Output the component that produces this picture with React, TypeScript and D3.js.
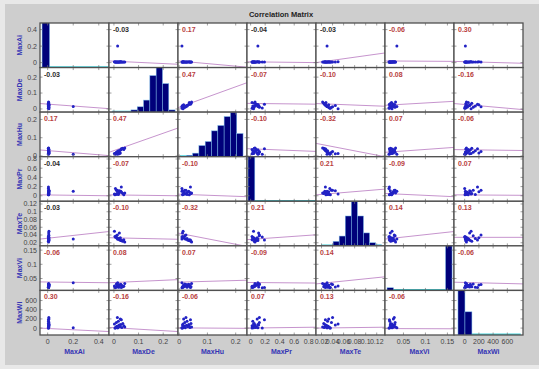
import React, { useEffect, useRef } from 'react';
import * as d3 from 'd3';

// Variables of the matrix
const varNames = ['MaxAi', 'MaxDe', 'MaxHu', 'MaxPr', 'MaxTe', 'MaxVi', 'MaxWi'];

// Axis limits (x for columns, y for rows) and tick values per variable
const xDomains = [[-0.06, 0.48], [-0.02, 0.26], [-0.004, 0.24], [-0.05, 0.9], [0.01, 0.135], [0.008, 0.165], [-150, 820]];
const yDomains = [[-0.06, 0.48], [-0.02, 0.26], [-0.004, 0.24], [-0.12, 0.85], [0.012, 0.127], [0.008, 0.165], [-150, 820]];
const tickValues = [
  [0, 0.2, 0.4],
  [0, 0.1, 0.2],
  [0, 0.1, 0.2],
  [0, 0.2, 0.4, 0.6, 0.8],
  [0.02, 0.04, 0.06, 0.08, 0.1, 0.12],
  [0.05, 0.1, 0.15],
  [0, 200, 400, 600],
];

const maxAi = [0.006, 0.007, 0.008, 0.006, 0.009, 0.007, 0.010, 0.008, 0.006, 0.009, 0.007, 0.010, 0.008, 0.006, 0.009, 0.007, 0.008, 0.2, 0.006, 0.010];
const maxDe = [0.004, 0.008, 0.012, 0.016, 0.020, 0.024, 0.028, 0.032, 0.036, 0.010, 0.018, 0.026, 0.040, 0.006, 0.014, 0.044, 0.022, 0.015, 0.030, 0.002];
const maxHu = [0.012, 0.015, 0.018, 0.022, 0.026, 0.030, 0.034, 0.038, 0.042, 0.020, 0.028, 0.016, 0.036, 0.010, 0.024, 0.044, 0.012, 0.010, 0.040, 0.014];
const maxPr = [0.02, 0.03, 0.05, 0.04, 0.06, 0.08, 0.10, 0.07, 0.05, 0.12, 0.03, 0.09, 0.02, 0.16, 0.12, 0.06, 0.11, 0.10, 0.19, 0.04];
const maxTe = [0.036, 0.034, 0.032, 0.030, 0.029, 0.027, 0.026, 0.025, 0.024, 0.038, 0.031, 0.033, 0.028, 0.035, 0.040, 0.022, 0.045, 0.030, 0.027, 0.050];
const maxVi = [0.018, 0.020, 0.022, 0.024, 0.026, 0.028, 0.030, 0.025, 0.021, 0.031, 0.019, 0.027, 0.023, 0.017, 0.029, 0.032, 0.020, 0.035, 0.018, 0.024];
const maxWi = [5, 20, 40, 10, 60, 30, 80, 15, 100, 120, 150, 200, 50, 0, 230, 25, 70, 10, 180, 90];
const observations = [maxAi, maxDe, maxHu, maxPr, maxTe, maxVi, maxWi];

// Correlation coefficients
const corr = [
  [1, -0.03, 0.17, -0.04, -0.03, -0.06, 0.30],
  [-0.03, 1, 0.47, -0.07, -0.10, 0.08, -0.16],
  [0.17, 0.47, 1, -0.10, -0.32, 0.07, -0.06],
  [-0.04, -0.07, -0.10, 1, 0.21, -0.09, 0.07],
  [-0.03, -0.10, -0.32, 0.21, 1, 0.14, 0.13],
  [-0.06, 0.08, 0.07, -0.09, 0.14, 1, -0.06],
  [0.30, -0.16, -0.06, 0.07, 0.13, -0.06, 1],
];
// pairs whose coefficient is drawn in black (not significant)
const notSignificant = [[0, 1], [0, 3], [0, 4]];

// Least-squares lines: row variable value at the left and right end of the x range
const fitLines = [
  [null, [0.02, -0.02], [0.02, -0.055], [0.01, 0.0], [0.0, 0.117], [0.02, 0.015], [0.015, -0.008]],
  [[0.034, 0.002], null, [0.008, 0.165], [0.035, 0.03], [0.034, 0.017], [0.023, 0.048], [0.034, -0.004]],
  [[0.033, 0.002], [0.02, 0.153], null, [0.04, 0.025], [0.069, -0.004], [0.02, 0.047], [0.035, 0.03]],
  [[0.02, 0.0], [0.02, 0.0], [0.035, -0.02], null, [0.02, 0.145], [0.05, -0.02], [0.02, 0.01]],
  [[0.0295, 0.049], [0.033, 0.029], [0.045, 0.0105], [0.028, 0.0405], null, [0.0295, 0.049], [0.034, 0.034]],
  [[0.038, 0.035], [0.035, 0.046], [0.037, 0.044], [0.036, 0.034], [0.031, 0.056], null, [0.037, 0.031]],
  [[0, -75], [15, -75], [5, -5], [0, 20], [0, 20], [-10, -15], null],
];

// Diagonal histograms: first bin edge, bin width, relative counts
const histStart = [-0.044, -0.0078, 0.003, -0.036, 0.019, 0.0126, -94];
const histWidth = [0.0587, 0.0256, 0.0223, 0.0935, 0.011, 0.0148, 98];
const histCounts = [
  [1.1, 0, 0, 0, 0, 0, 0, 0, 0],
  [0.01, 0.01, 0.01, 0.05, 0.12, 0.27, 0.82, 1.0, 0.64, 0.05],
  [0.01, 0.03, 0.08, 0.25, 0.34, 0.58, 0.7, 0.9, 1.0, 0.52],
  [1.1, 0, 0, 0, 0, 0, 0, 0, 0, 0],
  [0.01, 0.01, 0.1, 0.22, 0.67, 1.0, 0.67, 0.29, 0.07, 0.02],
  [0.06, 0, 0, 0, 0, 0, 0, 0, 0, 1.1],
  [1.1, 0.52, 0, 0, 0, 0, 0, 0, 0],
];

const WIDTH = 539;
const HEIGHT = 369;
const FONT = "'Liberation Sans', Arial, sans-serif";

const App: React.FC = () => {
  const svgRef = useRef<SVGSVGElement>(null);

  useEffect(() => {
    if (!svgRef.current) return;
    const svg = d3.select(svgRef.current);
    svg.selectAll('*').remove();

    const grid = { left: 40, right: 523, top: 23, bottom: 335 };
    const n = varNames.length;
    const cw = (grid.right - grid.left) / n;
    const ch = (grid.bottom - grid.top) / n;

    // background
    svg.append('rect').attr('width', WIDTH).attr('height', HEIGHT).attr('fill', '#e8e8e8');
    svg.append('rect').attr('x', 5).attr('y', 4).attr('width', WIDTH - 5).attr('height', 361).attr('fill', '#cecece');

    svg.append('text')
      .attr('x', 281).attr('y', 17)
      .attr('text-anchor', 'middle')
      .attr('font-family', FONT).attr('font-size', '7.5px').attr('font-weight', 'bold')
      .attr('fill', '#222')
      .text('Correlation Matrix');

    const defs = svg.append('defs');

    for (let i = 0; i < n; i++) {
      for (let j = 0; j < n; j++) {
        const x0 = grid.left + j * cw;
        const y0 = grid.top + i * ch;
        const x = d3.scaleLinear().domain(xDomains[j]).range([x0, x0 + cw]);
        const y = d3.scaleLinear().domain(yDomains[i]).range([y0 + ch, y0]);

        const clipId = `clip-${i}-${j}`;
        defs.append('clipPath').attr('id', clipId)
          .append('rect').attr('x', x0).attr('y', y0).attr('width', cw).attr('height', ch);

        svg.append('rect').attr('x', x0).attr('y', y0).attr('width', cw).attr('height', ch).attr('fill', '#fff');
        const g = svg.append('g').attr('clip-path', `url(#${clipId})`);

        if (i === j) {
          const counts = histCounts[i];
          const hy = d3.scaleLinear().domain([0, 1]).range([y0 + ch, y0]);
          const start = histStart[i];
          const w = histWidth[i];
          g.append('line')
            .attr('x1', x(start)).attr('x2', x(start + counts.length * w))
            .attr('y1', y0 + ch - 0.7).attr('y2', y0 + ch - 0.7)
            .attr('stroke', '#40d0d8').attr('stroke-width', 1.4);
          counts.forEach((c, b) => {
            if (c <= 0) return;
            g.append('rect')
              .attr('x', x(start + b * w))
              .attr('y', hy(c))
              .attr('width', x(start + (b + 1) * w) - x(start + b * w))
              .attr('height', hy(0) - hy(c))
              .attr('fill', '#00007a')
              .attr('stroke', '#78b8e8')
              .attr('stroke-width', 0.5);
          });
        } else {
          const line = fitLines[i][j] as number[];
          g.append('line')
            .attr('x1', x0).attr('x2', x0 + cw)
            .attr('y1', y(line[0])).attr('y2', y(line[1]))
            .attr('stroke', '#b878c0').attr('stroke-width', 0.8);

          const xs = observations[j];
          const ys = observations[i];
          xs.forEach((xv, k) => {
            g.append('circle')
              .attr('cx', x(xv)).attr('cy', y(ys[k]))
              .attr('r', 1.5)
              .attr('fill', '#2222c4');
          });

          const r = corr[i][j];
          const black = notSignificant.some(([a, b]) => (a === i && b === j) || (a === j && b === i));
          g.append('text')
            .attr('x', x0 + 4).attr('y', y0 + 9)
            .attr('font-family', FONT).attr('font-size', '7px').attr('font-weight', 'bold')
            .attr('fill', black ? '#2a2a2a' : '#b84040')
            .text(r.toFixed(2));
        }

        // inward ticks on all four sides
        tickValues[j].forEach((t) => {
          const tx = x(t);
          if (tx < x0 || tx > x0 + cw) return;
          svg.append('line').attr('x1', tx).attr('x2', tx).attr('y1', y0 + ch).attr('y2', y0 + ch - 2.5).attr('stroke', '#777').attr('stroke-width', 0.7);
          svg.append('line').attr('x1', tx).attr('x2', tx).attr('y1', y0).attr('y2', y0 + 2.5).attr('stroke', '#777').attr('stroke-width', 0.7);
        });
        tickValues[i].forEach((t) => {
          const ty = y(t);
          if (ty < y0 || ty > y0 + ch) return;
          svg.append('line').attr('x1', x0).attr('x2', x0 + 2.5).attr('y1', ty).attr('y2', ty).attr('stroke', '#777').attr('stroke-width', 0.7);
          svg.append('line').attr('x1', x0 + cw).attr('x2', x0 + cw - 2.5).attr('y1', ty).attr('y2', ty).attr('stroke', '#777').attr('stroke-width', 0.7);
        });

        svg.append('rect').attr('x', x0).attr('y', y0).attr('width', cw).attr('height', ch)
          .attr('fill', 'none').attr('stroke', '#505050').attr('stroke-width', 1.3);

        // tick labels on the outer edges
        if (j === 0) {
          tickValues[i].forEach((t) => {
            svg.append('text')
              .attr('x', x0 - 3).attr('y', y(t) + 2.4)
              .attr('text-anchor', 'end')
              .attr('font-family', FONT).attr('font-size', '7px')
              .attr('fill', '#444')
              .text(String(t));
          });
          svg.append('text')
            .attr('transform', `translate(${22},${y0 + ch / 2}) rotate(-90)`)
            .attr('text-anchor', 'middle')
            .attr('font-family', FONT).attr('font-size', '7px').attr('font-weight', 'bold')
            .attr('fill', '#3535b5')
            .text(varNames[i]);
        }
        if (i === n - 1) {
          tickValues[j].forEach((t) => {
            svg.append('text')
              .attr('x', x(t)).attr('y', y0 + ch + 9)
              .attr('text-anchor', 'middle')
              .attr('font-family', FONT).attr('font-size', '7px')
              .attr('fill', '#444')
              .text(String(t));
          });
          svg.append('text')
            .attr('x', x0 + cw / 2).attr('y', y0 + ch + 19)
            .attr('text-anchor', 'middle')
            .attr('font-family', FONT).attr('font-size', '7px').attr('font-weight', 'bold')
            .attr('fill', '#3535b5')
            .text(varNames[j]);
        }
      }
    }
  }, []);

  return (
    <svg
      ref={svgRef}
      width={WIDTH}
      height={HEIGHT}
      style={{ position: 'absolute', left: 0, top: 0 }}
    />
  );
};

export default App;
